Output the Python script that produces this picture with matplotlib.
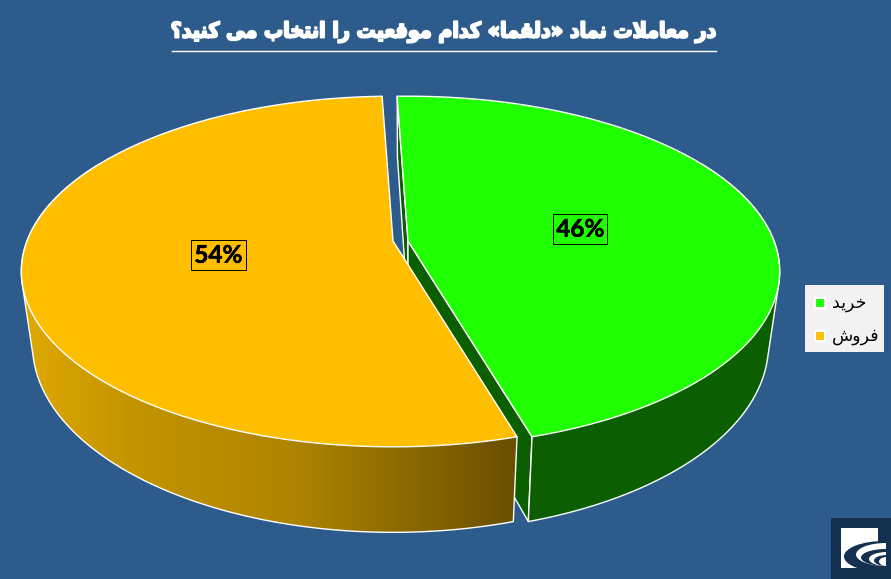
import numpy as np
import matplotlib
matplotlib.use("Agg")
import matplotlib.pyplot as plt
import matplotlib.patheffects as pe
from matplotlib.colors import LinearSegmentedColormap
from matplotlib.patches import Ellipse, Polygon, Rectangle

title = "در معاملات نماد «دلقما» کدام موقعیت را انتخاب می کنید؟"
labels = ["خرید", "فروش"]
values = [46, 54]
top_colors = ["#1fff00", "#ffbf00"]
bg = "#2d5b8b"

# presentation forms: isolated, final, initial, medial
forms = {
    "ا": (0xFE8D, 0xFE8E), "د": (0xFEA9, 0xFEAA), "ر": (0xFEAD, 0xFEAE), "و": (0xFEED, 0xFEEE),
    "ب": (0xFE8F, 0xFE90, 0xFE91, 0xFE92), "ت": (0xFE95, 0xFE96, 0xFE97, 0xFE98),
    "خ": (0xFEA5, 0xFEA6, 0xFEA7, 0xFEA8), "ش": (0xFEB5, 0xFEB6, 0xFEB7, 0xFEB8),
    "ع": (0xFEC9, 0xFECA, 0xFECB, 0xFECC), "ف": (0xFED1, 0xFED2, 0xFED3, 0xFED4),
    "ق": (0xFED5, 0xFED6, 0xFED7, 0xFED8), "ک": (0xFB8E, 0xFB8F, 0xFB90, 0xFB91),
    "ل": (0xFEDD, 0xFEDE, 0xFEDF, 0xFEE0), "م": (0xFEE1, 0xFEE2, 0xFEE3, 0xFEE4),
    "ن": (0xFEE5, 0xFEE6, 0xFEE7, 0xFEE8), "ی": (0xFBFC, 0xFBFD, 0xFBFE, 0xFBFF),
}
mirror = {"«": "»", "»": "«"}


def shape(text):
    # matplotlib does no arabic shaping, so join letters and put them in visual order
    out = []
    i = 0
    joined = False
    while i < len(text):
        c = text[i]
        if c not in forms:
            out.append(mirror.get(c, c))
            joined = False
            i += 1
            continue
        if c == "ل" and i + 1 < len(text) and text[i + 1] == "ا":
            out.append(chr(0xFEFC if joined else 0xFEFB))
            joined = False
            i += 2
            continue
        f = forms[c]
        next_ok = i + 1 < len(text) and text[i + 1] in forms
        if len(f) == 2:
            out.append(chr(f[1] if joined else f[0]))
            joined = False
        else:
            if joined:
                out.append(chr(f[3] if next_ok else f[1]))
            else:
                out.append(chr(f[2] if next_ok else f[0]))
            joined = next_ok
        i += 1
    return "".join(out[::-1])


def hull(pts):
    # monotone chain, needed for the side wall outline
    pts = sorted(map(tuple, pts))
    def half(seq):
        h = []
        for p in seq:
            while len(h) > 1 and (h[-1][0] - h[-2][0]) * (p[1] - h[-2][1]) - (h[-1][1] - h[-2][1]) * (p[0] - h[-2][0]) <= 0:
                h.pop()
            h.append(p)
        return h[:-1]
    return np.array(half(pts) + half(pts[::-1]))


# pie projection, pixels
start = -2.0
apex_x = [408, 393]
apex_y = 241
rx, ry, persp = 366, 170, 0.174
low_y, low_ry, shrink = 312, 182, 0.97


def project(cx, t, r=1.0, low=False):
    t = np.radians(t)
    x, y = r * np.sin(t), r * np.cos(t)
    w = 1 + persp * y
    if low:
        return cx + shrink * rx * x / w, low_y - low_ry * y / w
    return cx + rx * x / w, apex_y - ry * y / w


def wall_outline(cx, t):
    tx, ty = project(cx, t)
    bx, by = project(cx, t, low=True)
    return hull(np.c_[np.r_[tx, bx], np.r_[ty, by]])


fig = plt.figure(figsize=(8.91, 5.79), dpi=100, facecolor=bg)
ax = fig.add_axes([0, 0, 1, 1])
ax.set_xlim(0, 891)
ax.set_ylim(579, 0)
ax.axis("off")

angles = np.cumsum([0] + [v / sum(values) * 360 for v in values]) + start
line = dict(edgecolor="white", linewidth=1.0, joinstyle="round")

ts = np.linspace(angles[0], angles[1], 200)
ts2 = np.linspace(angles[1], angles[2], 240)

# green cut faces and wall
cx = apex_x[0]
green_dark = "#0c5f00"
tx, ty = project(cx, ts)
bx, by = project(cx, ts, low=True)
lx, ly = project(cx, 0, r=0, low=True)
ax.add_patch(Polygon([[tx[0], ty[0]], [cx, apex_y], [lx, ly], [bx[0], by[0]]], facecolor=green_dark, **line))
ax.add_patch(Polygon([[tx[-1], ty[-1]], [cx, apex_y], [lx, ly], [bx[-1], by[-1]]], facecolor=green_dark, **line))
ax.add_patch(Polygon(wall_outline(cx, ts[ts > 60]), facecolor=green_dark, **line))

# orange wall with gradient along x
wall = Polygon(wall_outline(apex_x[1], ts2[ts2 < 300]), facecolor="none", zorder=1.1, **line)
ax.add_patch(wall)
cmap = LinearSegmentedColormap.from_list("wall", [(0, "#e0a900"), (0.22, "#c49400"), (0.55, "#ae8400"), (1, "#6a4f00")])
im = ax.imshow(np.linspace(0, 1, 256)[None, :], extent=[20, 516, 579, 0], cmap=cmap, aspect="auto", zorder=1)
im.set_clip_path(wall)

# top faces
for i, seg in [(1, ts2), (0, ts)]:
    x, y = project(apex_x[i], seg)
    pts = np.c_[np.r_[apex_x[i], x], np.r_[apex_y, y]]
    ax.add_patch(Polygon(pts, facecolor=top_colors[i], zorder=2, **line))

# value labels sit half way out on the slice
for i, v in enumerate(values):
    mid = (angles[i] + angles[i + 1]) / 2
    x, y = project(apex_x[i], mid, r=0.48)
    ax.text(x + 1, y + 1, f"{v}%", ha="center", va="center", fontsize=17.5, fontweight="bold", family="Lato",
            color="black", zorder=3, path_effects=[pe.withStroke(linewidth=0.4, foreground="black")],
            bbox=dict(facecolor=top_colors[i], edgecolor="black", linewidth=0.7, boxstyle="square,pad=0.14"))

# title
ax.text(444, 32, shape(title), ha="center", va="center", fontsize=15.3, fontweight="bold", stretch="condensed",
        color="white", path_effects=[pe.withStroke(linewidth=1.4, foreground="white")], zorder=3)
ax.plot([172, 716], [50.5, 50.5], color="white", linewidth=1, zorder=3)

# legend
ax.add_patch(Rectangle((805, 285), 79, 67, facecolor="#f2f2f2", edgecolor="none", zorder=3))
for lab, col, yy in zip(labels, top_colors, [303, 336]):
    ax.add_patch(Rectangle((815, yy - 5), 10, 10, facecolor=col, edgecolor="white", linewidth=1.5, zorder=4))
    ax.text(832, yy, shape(lab), ha="left", va="center", fontsize=12.5, color="black", zorder=4)

# logo
ax.add_patch(Rectangle((831, 518), 60, 61, facecolor="#14304f", zorder=4))
ax.add_patch(Rectangle((841, 528), 37, 40, facecolor="white", zorder=4))
logo_clip = Rectangle((841, 528), 45, 40, transform=ax.transData)
for w, h, xc, yc, col in [(80, 31, 884, 556.5, "#14304f"), (60, 23, 886, 554.5, "white"), (50, 17, 886, 557.5, "#14304f"),
                          (36, 14, 887, 559, "white"), (26, 11, 887, 560.5, "#14304f"), (16, 9, 887, 561.5, "white")]:
    e = Ellipse((xc, yc), w, h, facecolor=col, zorder=5)
    ax.add_patch(e)
    e.set_clip_path(logo_clip)

ax.set_xlim(0, 891)
ax.set_ylim(579, 0)
fig.savefig("out.png", dpi=100, facecolor=bg)
